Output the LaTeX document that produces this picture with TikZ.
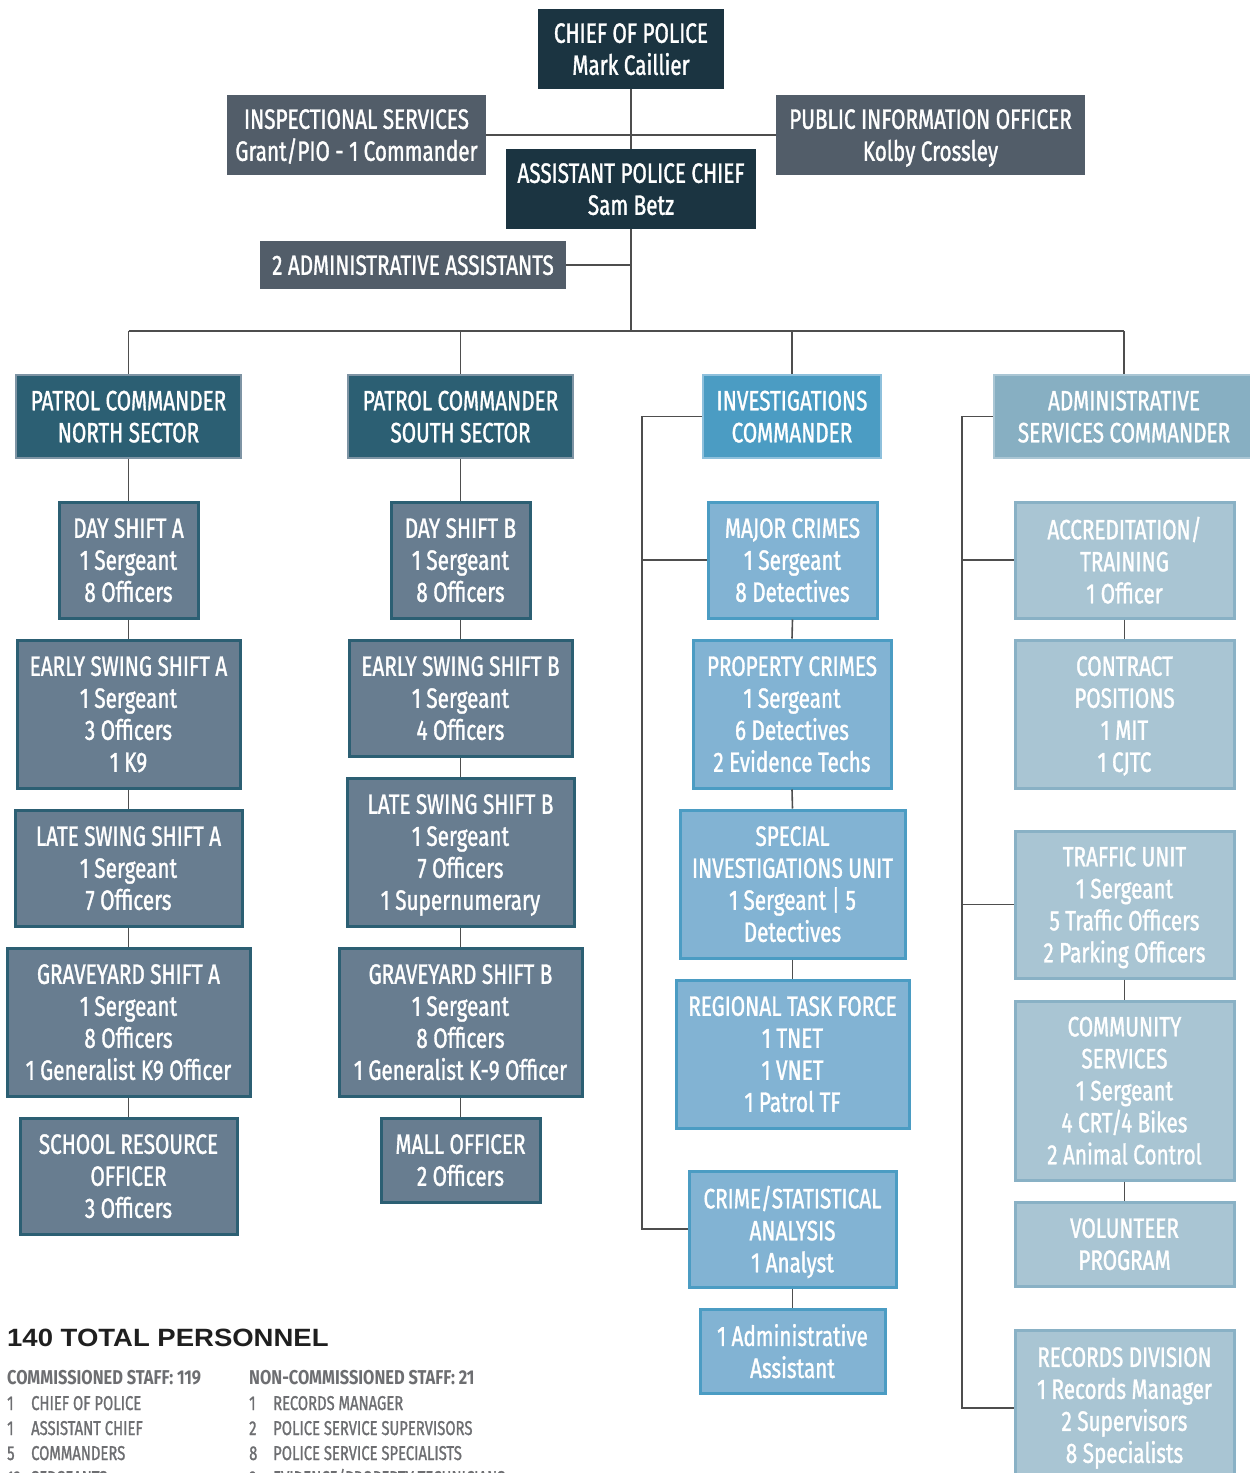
\documentclass[tikz,border=0pt]{standalone}
\usepackage{fontspec}
\setmainfont{Fira Sans}[FakeStretch=0.74, FakeBold=1.2]
\newfontfamily\titlefont{Liberation Sans}[FakeStretch=1.1]
\newfontfamily\legheadfont{Fira Sans}[FakeStretch=0.82]
\definecolor{navyc}{HTML}{1B3441}
\definecolor{grayc}{HTML}{525D69}
\definecolor{pcmdc}{HTML}{2C5F73}
\definecolor{pcmdb}{HTML}{7E94A4}
\definecolor{pboxc}{HTML}{687D90}
\definecolor{pboxb}{HTML}{2C5F73}
\definecolor{icmdc}{HTML}{4B9CC3}
\definecolor{icmdb}{HTML}{8EC0DC}
\definecolor{iboxc}{HTML}{82B3D3}
\definecolor{iboxb}{HTML}{4B9CC3}
\definecolor{acmdc}{HTML}{87AFC2}
\definecolor{acmdb}{HTML}{AAC6D4}
\definecolor{aboxc}{HTML}{A9C5D3}
\definecolor{aboxb}{HTML}{89B1C5}
\definecolor{linec}{HTML}{4E4E4E}
\definecolor{legc}{HTML}{6D6E71}
\newcommand{\boxfont}{\fontsize{28}{32}\selectfont}
\newcommand{\legfont}{\fontsize{20}{25}\selectfont}
\newcommand{\bx}[7]{\node[#6, minimum width={(#4)-(#2)}, minimum height={(#5)-(#3)}] (#1) at ({((#2)+(#4))/2},{((#3)+(#5))/2}) {#7};}
\tikzset{
  base/.style={inner sep=0pt, align=center, text=white, font=\boxfont, text depth=-5pt},
  navy/.style={base, fill=navyc},
  grayb/.style={base, fill=grayc},
  pcmd/.style={base, fill=pcmdc, draw=pcmdb, line width=2.5pt},
  pbox/.style={base, fill=pboxc, draw=pboxb, line width=3pt},
  icmd/.style={base, fill=icmdc, draw=icmdb, line width=2.5pt},
  ibox/.style={base, fill=iboxc, draw=iboxb, line width=3pt},
  acmd/.style={base, fill=acmdc, draw=acmdb, line width=2.5pt},
  abox/.style={base, fill=aboxc, draw=aboxb, line width=3pt},
  conn/.style={draw=linec, line width=1.6pt},
  leg/.style={anchor=base west, inner sep=0pt, text=legc, font=\legfont},
  leghead/.style={leg, font=\legheadfont\legfont\bfseries}
}
\begin{document}
\begin{tikzpicture}[x=1pt,y=-1pt]
\useasboundingbox (0,0) rectangle (1250,1473);
% top
\bx{chief}{538}{9}{724}{89}{navy}{CHIEF OF POLICE\\Mark Caillier}
\bx{insp}{227}{95}{486}{175}{grayb}{INSPECTIONAL SERVICES\\Grant/PIO - 1 Commander}
\bx{pio}{776}{95}{1085}{175}{grayb}{PUBLIC INFORMATION OFFICER\\Kolby Crossley}
\bx{asst}{506}{149}{756}{229}{navy}{ASSISTANT POLICE CHIEF\\Sam Betz}
\bx{adm2}{260}{241}{566}{289}{grayb}{2 ADMINISTRATIVE ASSISTANTS}
% column 1
\bx{pcn}{16}{375}{241}{458}{pcmd}{PATROL COMMANDER\\NORTH SECTOR}
\bx{dsa}{59}{502}{198}{618}{pbox}{DAY SHIFT A\\1 Sergeant\\8 Officers}
\bx{esa}{17}{640}{240}{788}{pbox}{EARLY SWING SHIFT A\\1 Sergeant\\3 Officers\\1 K9}
\bx{lsa}{15}{810}{242}{926}{pbox}{LATE SWING SHIFT A\\1 Sergeant\\7 Officers}
\bx{gsa}{7}{948}{250}{1096}{pbox}{GRAVEYARD SHIFT A\\1 Sergeant\\8 Officers\\1 Generalist K9 Officer}
\bx{sro}{20}{1118}{237}{1234}{pbox}{SCHOOL RESOURCE\\OFFICER\\3 Officers}
% column 2
\bx{pcs}{348}{375}{573}{458}{pcmd}{PATROL COMMANDER\\SOUTH SECTOR}
\bx{dsb}{391}{502}{530}{618}{pbox}{DAY SHIFT B\\1 Sergeant\\8 Officers}
\bx{esb}{349}{640}{572}{756}{pbox}{EARLY SWING SHIFT B\\1 Sergeant\\4 Officers}
\bx{lsb}{347}{778}{574}{926}{pbox}{LATE SWING SHIFT B\\1 Sergeant\\7 Officers\\1 Supernumerary}
\bx{gsb}{339}{948}{582}{1096}{pbox}{GRAVEYARD SHIFT B\\1 Sergeant\\8 Officers\\1 Generalist K-9 Officer}
\bx{mall}{381}{1118}{540}{1202}{pbox}{MALL OFFICER\\2 Officers}
% column 3
\bx{inv}{703}{375}{881}{458}{icmd}{INVESTIGATIONS\\COMMANDER}
\bx{major}{708}{502}{877}{618}{ibox}{MAJOR CRIMES\\1 Sergeant\\8 Detectives}
\bx{prop}{693}{640}{891}{788}{ibox}{PROPERTY CRIMES\\1 Sergeant\\6 Detectives\\2 Evidence Techs}
\bx{siu}{680}{810}{905}{958}{ibox}{SPECIAL\\INVESTIGATIONS UNIT\\1 Sergeant | 5\\Detectives}
\bx{rtf}{676}{980}{909}{1128}{ibox}{REGIONAL TASK FORCE\\1 TNET\\1 VNET\\1 Patrol TF}
\bx{crime}{689}{1171}{896}{1287}{ibox}{CRIME/STATISTICAL\\ANALYSIS\\1 Analyst}
\bx{iaa}{700}{1309}{885}{1393}{ibox}{1 Administrative\\Assistant}
% column 4
\bx{admc}{994}{375}{1254}{458}{acmd}{ADMINISTRATIVE\\SERVICES COMMANDER}
\bx{accr}{1015}{502}{1234}{618}{abox}{ACCREDITATION/\\TRAINING\\1 Officer}
\bx{contr}{1015}{640}{1234}{788}{abox}{CONTRACT\\POSITIONS\\1 MIT\\1 CJTC}
\bx{traf}{1015}{831}{1234}{978}{abox}{TRAFFIC UNIT\\1 Sergeant\\5 Traffic Officers\\2 Parking Officers}
\bx{comm}{1015}{1001}{1234}{1180}{abox}{COMMUNITY\\SERVICES\\1 Sergeant\\4 CRT/4 Bikes\\2 Animal Control}
\bx{vol}{1015}{1202}{1234}{1286}{abox}{VOLUNTEER\\PROGRAM}
\bx{rec}{1015}{1330}{1234}{1480}{abox}{RECORDS DIVISION\\1 Records Manager\\2 Supervisors\\8 Specialists}
% connectors
\coordinate (hub) at (631,331);
\coordinate (ibx) at (642,0);
\coordinate (abx) at (962,0);
\coordinate (recj) at (962,1408);
\draw[conn] (chief.south) -- (asst.north);
\draw[conn] (insp.east) -- (pio.west);
\draw[conn] (asst.south) -- (hub);
\draw[conn] (adm2.east) -- (adm2.east -| asst.south);
\draw[conn] (pcn.north |- hub) -- (admc.north |- hub);
\foreach \n in {pcn,pcs,inv,admc} \draw[conn] (\n.north) -- (\n.north |- hub);
\foreach \a/\b in {pcn/dsa,dsa/esa,esa/lsa,lsa/gsa,gsa/sro,pcs/dsb,dsb/esb,esb/lsb,lsb/gsb,gsb/mall,major/prop,prop/siu,siu/rtf,crime/iaa,accr/contr,traf/comm,comm/vol}
  \draw[conn] (\a.south) -- (\b.north);
\draw[conn] (inv.west) -- (inv.west -| ibx) -- (crime.west -| ibx) -- (crime.west);
\draw[conn] (major.west) -- (major.west -| ibx);
\draw[conn] (admc.west) -- (admc.west -| abx) -- (recj) -- (recj -| rec.west);
\draw[conn] (accr.west) -- (accr.west -| abx);
\draw[conn] (traf.west) -- (traf.west -| abx);
% legend
\node[anchor=base west, inner sep=0pt, text=black!88, font=\titlefont\fontsize{25}{30}\selectfont\bfseries] (total) at (7,1346) {140 TOTAL PERSONNEL};
\node[leghead] (ch) at (7,1384) {COMMISSIONED STAFF: 119};
\node[leg] (c1n) at (7,1410) {1};  \node[leg] (c1) at (31,1410) {CHIEF OF POLICE};
\node[leg] (c2n) at (7,1435) {1};  \node[leg] (c2) at (31,1435) {ASSISTANT CHIEF};
\node[leg] (c3n) at (7,1460) {5};  \node[leg] (c3) at (31,1460) {COMMANDERS};
\node[leg] (c4n) at (7,1485) {12}; \node[leg] (c4) at (31,1485) {SERGEANTS};
\node[leghead] (nh) at (249,1384) {NON-COMMISSIONED STAFF: 21};
\node[leg] (n1n) at (249,1410) {1}; \node[leg] (n1) at (273,1410) {RECORDS MANAGER};
\node[leg] (n2n) at (249,1435) {2}; \node[leg] (n2) at (273,1435) {POLICE SERVICE SUPERVISORS};
\node[leg] (n3n) at (249,1460) {8}; \node[leg] (n3) at (273,1460) {POLICE SERVICE SPECIALISTS};
\node[leg] (n4n) at (249,1485) {2}; \node[leg] (n4) at (273,1485) {EVIDENCE/PROPERTY TECHNICIANS};
\end{tikzpicture}
\end{document}
